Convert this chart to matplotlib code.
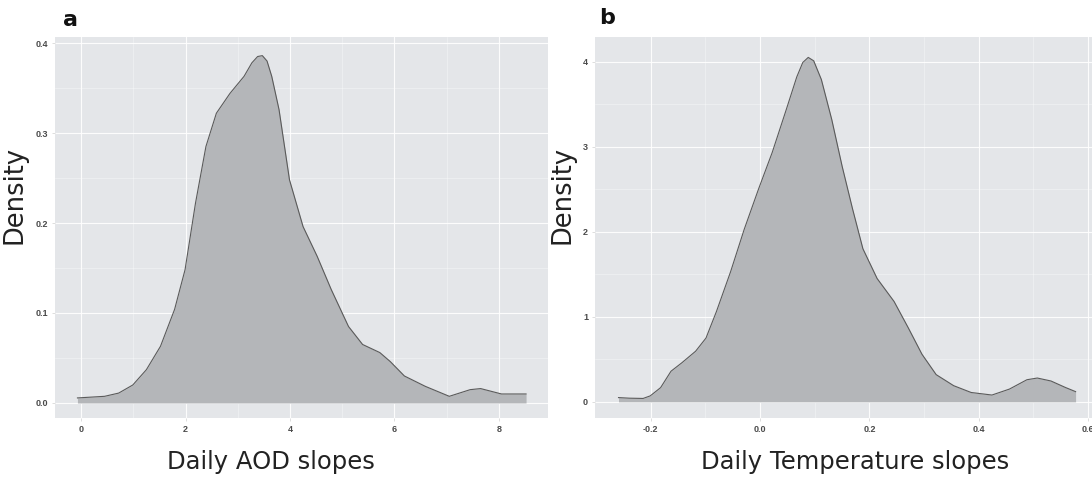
import matplotlib
matplotlib.use("Agg")
import matplotlib.pyplot as plt
import numpy as np

# panel a: daily AOD slopes density
aod_x = [-0.07, 0.45, 0.72, 0.99, 1.25, 1.52, 1.79, 1.99, 2.19, 2.39, 2.59, 2.85,
         3.12, 3.27, 3.38, 3.47, 3.56, 3.65, 3.79, 3.99, 4.25, 4.52, 4.79, 5.12,
         5.39, 5.72, 5.92, 6.19, 6.59, 7.05, 7.45, 7.65, 8.05, 8.52]
aod_y = [0.0056, 0.0074, 0.011, 0.020, 0.037, 0.063, 0.104, 0.148, 0.222, 0.285,
         0.322, 0.344, 0.363, 0.378, 0.385, 0.386, 0.380, 0.363, 0.326, 0.248,
         0.196, 0.163, 0.126, 0.085, 0.065, 0.056, 0.046, 0.030, 0.0185, 0.0074,
         0.0148, 0.016, 0.010, 0.010]

# panel b: daily temperature slopes density
tmp_x = [-0.259, -0.239, -0.214, -0.201, -0.182, -0.163, -0.143, -0.118, -0.099,
         -0.080, -0.054, -0.029, -0.003, 0.022, 0.048, 0.067, 0.078, 0.088, 0.098,
         0.112, 0.131, 0.150, 0.169, 0.188, 0.214, 0.245, 0.271, 0.296, 0.322,
         0.354, 0.386, 0.424, 0.456, 0.488, 0.507, 0.532, 0.558, 0.577]
tmp_y = [0.05, 0.043, 0.04, 0.07, 0.167, 0.36, 0.46, 0.595, 0.75, 1.06, 1.53, 2.03,
         2.50, 2.93, 3.44, 3.82, 3.99, 4.05, 4.01, 3.79, 3.32, 2.77, 2.27, 1.80,
         1.45, 1.18, 0.87, 0.56, 0.32, 0.19, 0.11, 0.08, 0.15, 0.26, 0.28, 0.245,
         0.17, 0.12]

aod_xticks = [0, 2, 4, 6, 8]
aod_yticks = [0.0, 0.1, 0.2, 0.3, 0.4]
aod_ytlabels = ["0.0", "0.1", "0.2", "0.3", "0.4"]
tmp_xticks = [-0.2, 0.0, 0.2, 0.4, 0.6]
tmp_xtlabels = ["-0.2", "0.0", "0.2", "0.4", "0.6"]
tmp_yticks = [0, 1, 2, 3, 4]

W, H = 1092, 479
fig = plt.figure(figsize=(W / 100, H / 100), dpi=100)

bg = "#e4e6e9"
fillc = "#b4b6b9"
linec = "#5a5a5a"
tickc = "#4a4a4a"


def px_axes(l, r, t, b):
    return fig.add_axes([l / W, 1 - b / H, (r - l) / W, (b - t) / H])


def style(ax, xt, xtl, yt, ytl, xminor, yminor):
    ax.set_facecolor(bg)
    for s in ax.spines.values():
        s.set_visible(False)
    ax.set_xticks(xt)
    ax.set_xticklabels(xtl)
    ax.set_yticks(yt)
    ax.set_yticklabels(ytl)
    ax.set_xticks(xminor, minor=True)
    ax.set_yticks(yminor, minor=True)
    ax.grid(which="major", color="white", lw=0.8, alpha=0.9)
    ax.grid(which="minor", color="white", lw=0.4, alpha=0.6)
    ax.set_axisbelow(True)
    ax.tick_params(which="major", length=2, width=0.5, color="#d0d0d0", pad=3)
    ax.tick_params(which="minor", length=0)
    for lab in ax.get_xticklabels() + ax.get_yticklabels():
        lab.set_fontsize(6.5)
        lab.set_fontweight("bold")
        lab.set_family("Liberation Sans")
        lab.set_color(tickc)


# panel a
ax1 = px_axes(55, 548, 37, 418)
ax1.fill_between(aod_x, 0, aod_y, color=fillc, lw=0)
ax1.plot(aod_x, aod_y, color=linec, lw=0.8)
ax1.set_xlim(-0.50, 8.94)
ax1.set_ylim(-0.0167, 0.4067)
style(ax1, aod_xticks, [str(v) for v in aod_xticks], aod_yticks, aod_ytlabels,
      [1, 3, 5, 7], [0.05, 0.15, 0.25, 0.35])

# panel b
ax2 = px_axes(595, 1092, 37, 418)
ax2.fill_between(tmp_x, 0, tmp_y, color=fillc, lw=0)
ax2.plot(tmp_x, tmp_y, color=linec, lw=0.8)
ax2.set_xlim(-0.302, 0.607)
ax2.set_ylim(-0.19, 4.29)
style(ax2, tmp_xticks, tmp_xtlabels, tmp_yticks, [str(v) for v in tmp_yticks],
      [-0.1, 0.1, 0.3, 0.5], [0.5, 1.5, 2.5, 3.5])

# axis titles and panel letters
tc = "#222222"
fig.text(15 / W, 1 - 195 / H, "Density", rotation=90, fontsize=18.5,
         ha="center", va="center", color=tc)
fig.text(562 / W, 1 - 195 / H, "Density", rotation=90, fontsize=18.5,
         ha="center", va="center", color=tc)
fig.text(271 / W, 1 - 462 / H, "Daily AOD slopes", fontsize=17.5,
         ha="center", va="center", color=tc)
fig.text(855 / W, 1 - 462 / H, "Daily Temperature slopes", fontsize=17.5,
         ha="center", va="center", color=tc)
fig.text(70 / W, 1 - 20 / H, "a", fontsize=16, fontweight="bold",
         ha="center", va="center", color="#111111")
fig.text(607 / W, 1 - 18 / H, "b", fontsize=16, fontweight="bold",
         ha="center", va="center", color="#111111")

fig.savefig("out.png", dpi=100)
